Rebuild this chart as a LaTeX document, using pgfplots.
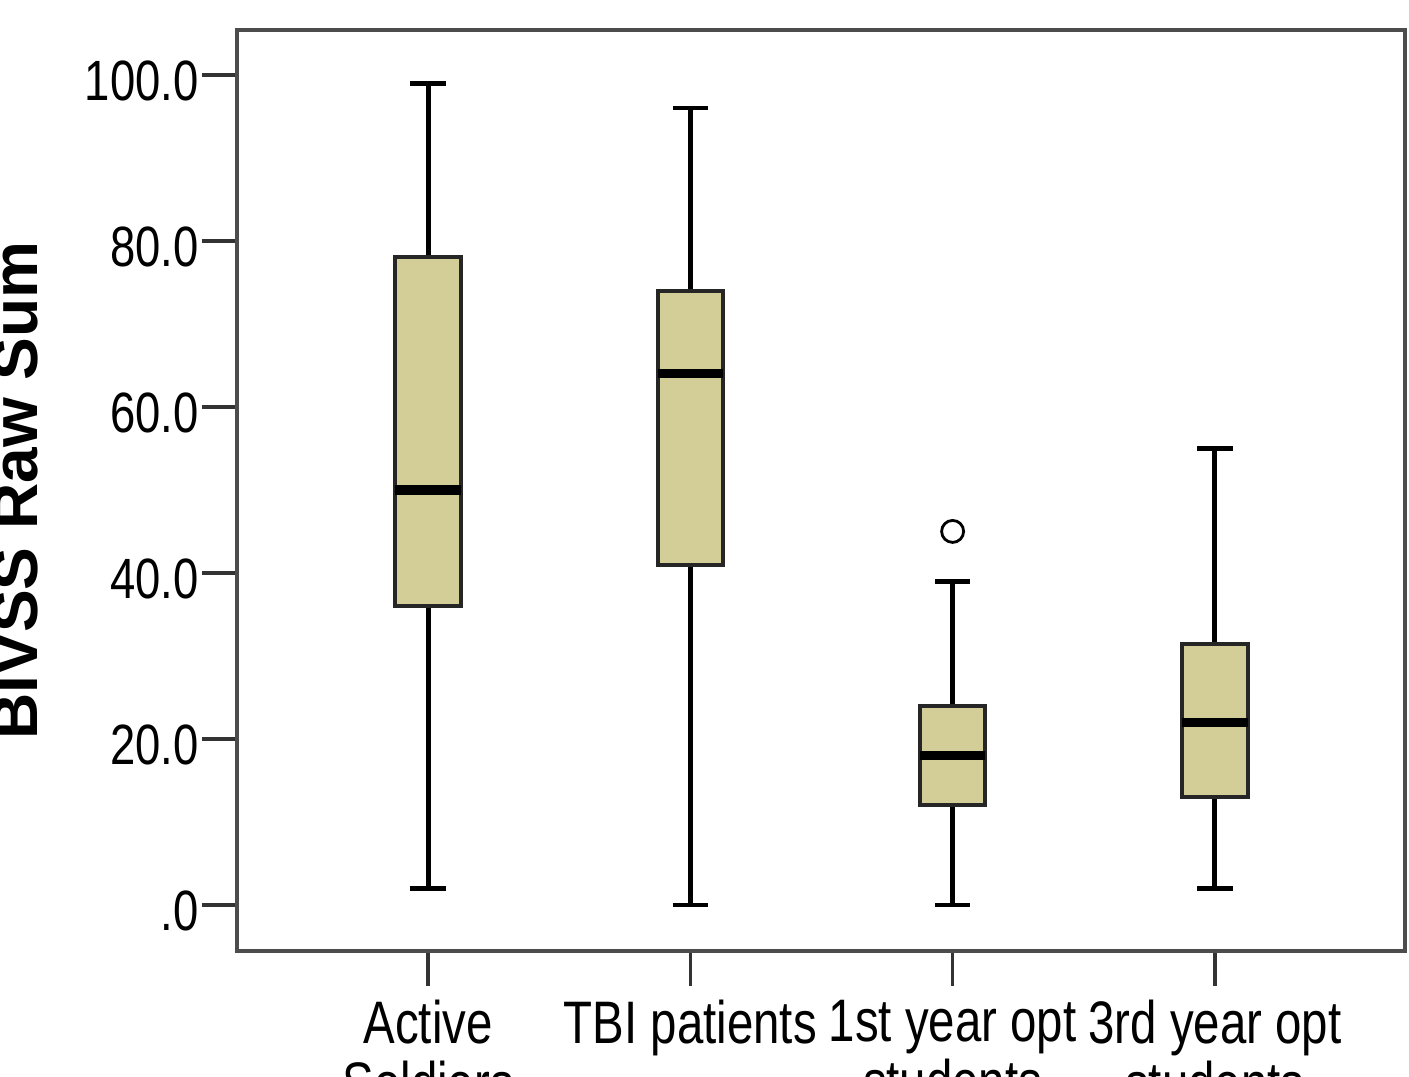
\documentclass[border=0pt]{standalone}
\usepackage{pgfplots}
\pgfplotsset{compat=1.18}
\usepgfplotslibrary{statistics}
\usepackage{fontspec}
\setmainfont{Liberation Sans}
\definecolor{boxfill}{RGB}{211,206,152}
\begin{document}
\begin{tikzpicture}
\begin{axis}[name=ax, at={(0,0)}, anchor=south west,
 scale only axis, width=292pt, height=230.25pt,
 xmin=0.271, xmax=4.725, ymin=-5.54, ymax=105.4,
 axis line style={black!70, line width=1pt},
 tick align=outside, major tick length=8.75pt,
 tick style={black!80, line width=0.9pt},
 tick pos=left,
 xtick={1,2,3,4},
 xticklabels={{Active\\Soldiers},{TBI patients},{1st year opt\\students},{3rd year opt\\students}},
 xticklabel style={align=center, font=\fontsize{15}{15.3}\selectfont, xscale=0.79},
 ytick={0,20,40,60,80,100},
 yticklabels={.0,20.0,40.0,60.0,80.0,100.0},
 yticklabel style={font=\fontsize{14.2}{16}\selectfont, xscale=0.8, yshift=-1.5pt, xshift=2.5pt},
 ylabel={BIVSS Raw Sum},
 ylabel style={font=\fontsize{16}{19}\selectfont\bfseries, at={(axis description cs:-0.1704,0.5)}, anchor=base},
 boxplot/draw direction=y,
 boxplot/every box/.style={draw=black!85, line width=1pt, fill=boxfill},
 boxplot/every median/.style={line width=2.4pt},
 boxplot/every whisker/.style={line width=1.2pt},
]
\addplot[black, boxplot prepared={draw position=1, lower whisker=2, lower quartile=36, median=50, upper quartile=78, upper whisker=99, box extend=0.25, whisker extend=0.135}] coordinates {};
\addplot[black, boxplot prepared={draw position=2, lower whisker=0, lower quartile=41, median=64, upper quartile=74, upper whisker=96, box extend=0.25, whisker extend=0.135}] coordinates {};
\addplot[black, mark=o, mark size=2.75pt, mark options={line width=0.7pt}, boxplot prepared={draw position=3, lower whisker=0, lower quartile=12, median=18, upper quartile=24, upper whisker=39, box extend=0.25, whisker extend=0.135}] table[row sep=\\, y index=0] {data\\ 45\\};
\addplot[black, boxplot prepared={draw position=4, lower whisker=2, lower quartile=13, median=22, upper quartile=31.4, upper whisker=55, box extend=0.25, whisker extend=0.135}] coordinates {};
\end{axis}
\pgfresetboundingbox
\path[use as bounding box] ([shift={(-59.25pt,-31.5pt)}]ax.south west) rectangle ([shift={(1pt,7.5pt)}]ax.north east);
\end{tikzpicture}
\end{document}
